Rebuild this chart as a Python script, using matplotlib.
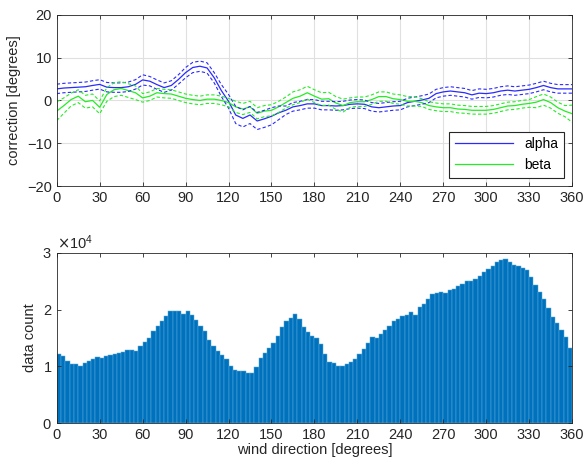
import numpy as np
import matplotlib
matplotlib.use('Agg')
import matplotlib.pyplot as plt

plt.rcParams['font.family'] = ['Liberation Sans', 'DejaVu Sans']

# top panel: correction angles every 5 degrees
direction = list(range(0, 361, 5))
alpha = [2.7, 2.9, 3.0, 3.1, 3.2, 3.5, 3.75, 3.1, 3.0, 3.0, 3.2, 3.75, 4.8, 4.5, 3.7,
         3.0, 3.5, 4.9, 6.5, 7.7, 8.0, 7.6, 5.3, 2.3, -0.2, -3.4, -4.2, -3.4, -4.8, -4.3,
         -3.7, -2.9, -2.3, -1.5, -1.2, -0.8, -0.8, -1.2, -1.2, -1.3, -1.2, -0.9, -0.8, -0.9,
         -1.5, -1.7, -1.5, -1.3, -1.2, -0.5, -0.2, 0.1, 0.5, 1.6, 2.0, 2.2, 2.0, 1.8, 1.3,
         1.7, 1.6, 1.8, 2.2, 2.4, 2.2, 2.4, 2.6, 3.0, 3.5, 3.0, 2.7, 2.7, 2.7]
alpha_err = [1.1] * 12 + [1.2] + [1.1] * 5 + [1.2] * 5 + [1.4, 1.6] + [2.0] * 6 + [1.6] \
    + [1.0] * 41
beta = [-2.5, -1.2, 0.2, 1.0, -0.3, 0.0, -1.6, 1.4, 2.5, 2.8, 2.3, 1.8, 0.6, 1.0, 1.8,
        1.6, 1.5, 1.0, 0.5, 0.2, 0.0, 0.3, 0.3, 0.0, -0.5, -1.5, -2.0, -1.5, -3.0, -2.5,
        -2.3, -1.5, -0.5, 0.5, 1.0, 1.8, 1.0, 0.3, 0.4, -0.6, -1.2, -0.5, -0.3, -0.3,
        0.2, 0.9, 0.9, 0.4, 0.2, -0.2, -0.2, -0.5, -1.2, -1.5, -1.7, -1.7, -2.0, -2.1,
        -2.3, -2.3, -2.3, -2.1, -1.7, -1.3, -1.2, -0.9, -0.7, -0.4, 0.2, -0.5, -1.7,
        -2.5, -3.1]
beta_err = [2.2, 1.8] + [1.5] * 5 + [1.6] * 5 + [1.0] * 13 + [1.3] * 8 + [1.5] * 8 \
    + [1.1] * 10 + [0.9] * 16 + [1.3] * 5 + [2.0]

# bottom panel: counts every 3 degrees
bin_start = list(range(0, 360, 3))
counts = [12200, 11900, 11000, 10400, 10400, 10100, 10650, 11000, 11250, 11600,
          11500, 11800, 12000, 12100, 12400, 12600, 12900, 12800, 12700, 13500,
          14200, 15000, 16150, 17150, 17900, 18800, 19800, 19700, 19700, 19200,
          19700, 19100, 18200, 17150, 16150, 14700, 13500, 12700, 12000, 11250,
          10050, 9350, 9250, 9200, 8900, 8900, 9950, 11400, 12300, 13200,
          14100, 15400, 17000, 17900, 18500, 19200, 18300, 17000, 16000, 15400,
          15050, 14000, 12100, 10750, 10600, 10000, 10100, 10450, 10750, 11350,
          12250, 13100, 14100, 15200, 15050, 15750, 16350, 17050, 18000, 18250,
          18800, 19100, 19500, 19000, 20450, 21000, 21900, 22700, 23000, 23100,
          23000, 23400, 23700, 24100, 24500, 24950, 25100, 25400, 25900, 26550,
          27150, 27700, 28300, 28700, 28900, 28300, 27800, 27650, 27400, 26950,
          25750, 24300, 23100, 21850, 20350, 18700, 17550, 16350, 15200, 13200]

d = np.array(direction)
a = np.array(alpha)
ae = np.array(alpha_err)
b = np.array(beta)
be = np.array(beta_err)

fig = plt.figure(figsize=(5.85, 4.65), dpi=100)
ax1 = fig.add_axes([0.097, 0.6, 0.881, 0.368])
ax2 = fig.add_axes([0.097, 0.0903, 0.881, 0.366])

blue = '#2a2aff'
green = '#22ee22'
ax1.plot(d, a, color=blue, lw=0.9, label='alpha')
ax1.plot(d, b, color=green, lw=0.9, label='beta')
for y, c in ((a + ae, blue), (a - ae, blue), (b + be, green), (b - be, green)):
    ax1.plot(d, y, color=c, lw=0.8, ls='--', dashes=(3, 2))
ax1.set_xlim(0, 360)
ax1.set_ylim(-20, 20)
ax1.set_yticks([-20, -10, 0, 10, 20])
ax1.set_ylabel('correction [degrees]', fontsize=10.5, color='#262626')
ax1.grid(True, color='#e0e0e0', lw=0.8)
leg = ax1.legend(loc='lower right', fontsize=10, fancybox=False, framealpha=1,
                 edgecolor='#262626', handlelength=4.2, borderaxespad=0.6)
leg.get_frame().set_linewidth(0.8)

ax2.bar(bin_start, counts, width=3, align='edge', color='#0072BD',
        edgecolor='#5aa8dd', lw=0.35)
ax2.set_xlim(0, 360)
ax2.set_ylim(0, 30000)
ax2.set_yticks([0, 10000, 20000, 30000])
ax2.ticklabel_format(axis='y', style='sci', scilimits=(0, 0), useMathText=True)
ax2.set_ylabel('data count', fontsize=10.5, color='#262626')
ax2.set_xlabel('wind direction [degrees]', fontsize=10.5, color='#262626', labelpad=1)

for ax in (ax1, ax2):
    ax.set_xticks(range(0, 361, 30))
    ax.tick_params(direction='in', top=True, right=True, labelsize=10.5,
                   colors='#262626', length=3, width=0.6)
    for s in ax.spines.values():
        s.set_color('#262626')
        s.set_linewidth(0.6)
ax2.yaxis.get_offset_text().set_fontsize(10.5)

fig.savefig('out.png', dpi=100)
